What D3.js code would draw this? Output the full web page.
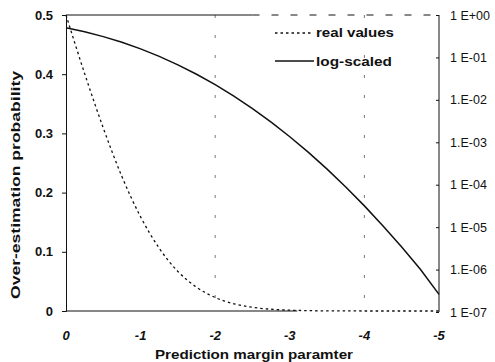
<!DOCTYPE html>
<html>
<head>
<meta charset="utf-8">
<script src="https://cdn.jsdelivr.net/npm/d3@7"></script>
<style>
  html, body { margin: 0; padding: 0; background: #fff; }
  svg { display: block; font-family: "Liberation Sans", Arial, sans-serif; }
</style>
</head>
<body>
<svg id="chart" width="495" height="362"></svg>
<script>
// Prediction margin parameter (x) and the over-estimation probability at each step
const margins = [0, -0.25, -0.5, -0.75, -1, -1.25, -1.5, -1.75, -2, -2.25, -2.5,
                 -2.75, -3, -3.25, -3.5, -3.75, -4, -4.25, -4.5, -4.75, -5];
const probabilities = [0.5, 0.401, 0.309, 0.227, 0.159, 0.106, 0.0668, 0.0401, 0.0228,
                       0.0122, 0.00621, 0.00298, 0.00135, 0.000577, 0.000233, 8.84e-5,
                       3.17e-5, 1.07e-5, 3.4e-6, 1.02e-6, 2.6e-7];

const xTicks = [0, -1, -2, -3, -4, -5];
const xTickLabels = ["0", "-1", "-2", "-3", "-4", "-5"];
const yTicks = [0, 0.1, 0.2, 0.3, 0.4, 0.5];
const yTickLabels = ["0", "0.1", "0.2", "0.3", "0.4", "0.5"];
const logTicks = [1, 1e-1, 1e-2, 1e-3, 1e-4, 1e-5, 1e-6, 1e-7];
const logTickLabels = ["1 E+00", "1 E-01", "1.E-02", "1.E-03", "1 E-04", "1 E-05", "1.E-06", "1 E-07"];
const seriesNames = ["real values", "log-scaled"];
const gridMargins = [-2, -4];

const svg = d3.select("#chart");
const ink = "#111";

const x = d3.scaleLinear().domain([0, -5]).range([66, 439]);
const y = d3.scaleLinear().domain([0, 0.5]).range([311, 15]);
const yLog = d3.scaleLog().domain([1e-7, 1]).range([312, 15]);

// faint dashed vertical gridlines
svg.append("g").selectAll("line").data(gridMargins).join("line")
  .attr("x1", d => x(d)).attr("x2", d => x(d))
  .attr("y1", y(0.5)).attr("y2", y(0))
  .attr("stroke", "#555").attr("stroke-width", 0.8)
  .attr("stroke-dasharray", "3,17");

// frame: top border (solid, then broken), right axis line
svg.append("line").attr("x1", x(0)).attr("x2", x(-2.5))
  .attr("y1", y(0.5)).attr("y2", y(0.5)).attr("stroke", ink).attr("stroke-width", 1);
svg.append("line").attr("x1", x(-2.5)).attr("x2", x(-5))
  .attr("y1", y(0.5)).attr("y2", y(0.5)).attr("stroke", ink).attr("stroke-width", 1)
  .attr("stroke-dasharray", "7,12");
svg.append("line").attr("x1", x(-5)).attr("x2", x(-5))
  .attr("y1", yLog(1)).attr("y2", yLog(1e-7)).attr("stroke", ink).attr("stroke-width", 1);

// bottom axis line (solid part)
svg.append("line").attr("x1", x(0)).attr("x2", x(-3.1))
  .attr("y1", y(0)).attr("y2", y(0)).attr("stroke", ink).attr("stroke-width", 1.1);

// left axis
const left = svg.append("g").attr("transform", `translate(${x(0)},0)`)
  .call(d3.axisLeft(y).tickValues(yTicks).tickSize(4)
        .tickFormat((d, i) => yTickLabels[i]).tickPadding(9));
left.select(".domain").attr("stroke", ink).attr("stroke-width", 1);
left.selectAll(".tick line").attr("stroke", ink);
left.selectAll(".tick text").attr("fill", ink)
  .style("font-size", "13px").style("font-weight", "bold")
  .style("font-family", "'Liberation Sans', Arial, sans-serif");

// right log axis (ticks point inward)
const right = svg.append("g").attr("transform", `translate(${x(-5)},0)`)
  .call(d3.axisRight(yLog).tickValues(logTicks).tickSizeInner(-3).tickSizeOuter(0)
        .tickFormat((d, i) => logTickLabels[i]).tickPadding(11));
right.select(".domain").remove();
right.selectAll(".tick line").attr("stroke", ink);
right.selectAll(".tick text").attr("fill", ink)
  .style("font-size", "12.5px")
  .style("font-family", "'Liberation Sans', Arial, sans-serif");

// bottom tick labels
svg.append("g").selectAll("text").data(xTicks).join("text")
  .attr("x", d => x(d)).attr("y", 340)
  .attr("text-anchor", "middle")
  .attr("fill", ink)
  .style("font-size", "13px").style("font-weight", "bold").style("font-style", "italic")
  .text((d, i) => xTickLabels[i]);

// axis titles
svg.append("text").attr("x", 254).attr("y", 359).attr("text-anchor", "middle")
  .attr("fill", ink).style("font-size", "13.5px").style("font-weight", "bold")
  .attr("textLength", 198).attr("lengthAdjust", "spacingAndGlyphs")
  .text("Prediction margin paramter");
svg.append("text").attr("transform", "translate(20,185) rotate(-90)")
  .attr("text-anchor", "middle").attr("fill", ink)
  .style("font-size", "13.5px").style("font-weight", "bold")
  .attr("textLength", 228).attr("lengthAdjust", "spacingAndGlyphs")
  .text("Over-estimation probability");

const rows = margins.map((m, i) => ({ m, p: probabilities[i] }));

// real values on the linear left axis (dotted)
svg.append("path").datum(rows)
  .attr("fill", "none").attr("stroke", ink).attr("stroke-width", 1.3)
  .attr("stroke-dasharray", "2.5,3")
  .attr("d", d3.line().x(d => x(d.m)).y(d => y(d.p)).curve(d3.curveMonotoneX));

// same probabilities on the log right axis (solid)
svg.append("path").datum(rows)
  .attr("fill", "none").attr("stroke", ink).attr("stroke-width", 1.5)
  .attr("d", d3.line().x(d => x(d.m)).y(d => yLog(d.p)));

// legend
const legend = svg.append("g");
legend.append("line").attr("x1", 275).attr("x2", 312).attr("y1", 33).attr("y2", 33)
  .attr("stroke", ink).attr("stroke-width", 1.3).attr("stroke-dasharray", "2.5,3");
legend.append("line").attr("x1", 275).attr("x2", 314).attr("y1", 61).attr("y2", 61)
  .attr("stroke", ink).attr("stroke-width", 1.3);
legend.selectAll("text").data(seriesNames).join("text")
  .attr("x", 316).attr("y", (d, i) => 37 + i * 29)
  .attr("fill", ink).style("font-size", "13.5px").style("font-weight", "bold")
  .attr("textLength", (d, i) => i === 0 ? 78 : 76).attr("lengthAdjust", "spacingAndGlyphs")
  .text(d => d);
</script>
</body>
</html>
